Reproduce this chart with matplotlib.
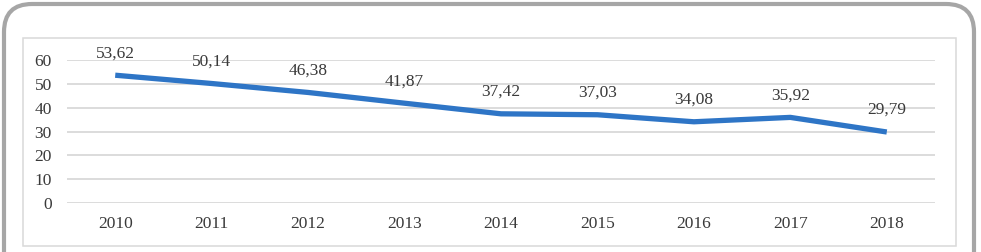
import matplotlib
matplotlib.use("Agg")
import matplotlib.pyplot as plt
from matplotlib.patches import FancyBboxPatch, Rectangle

years = ["2010", "2011", "2012", "2013", "2014", "2015", "2016", "2017", "2018"]
values = [53.62, 50.14, 46.38, 41.87, 37.42, 37.03, 34.08, 35.92, 29.79]
yticks = [0, 10, 20, 30, 40, 50, 60]

W, H = 981, 252
fig = plt.figure(figsize=(W / 100, H / 100), dpi=100)
fig.patch.set_facecolor("white")

# background axes in pixel coordinates for frames
bg = fig.add_axes([0, 0, 1, 1], zorder=-1)
bg.set_xlim(0, W)
bg.set_ylim(H, 0)
bg.axis("off")
outer = FancyBboxPatch((4, 4), 970, 300,
                       boxstyle="round,pad=0,rounding_size=28",
                       facecolor="white", edgecolor="#a6a6a6", linewidth=3.0)
bg.add_patch(outer)
inner = Rectangle((23, 38), 933, 208, facecolor="white",
                  edgecolor="#d9d9d9", linewidth=1.1)
bg.add_patch(inner)

def px(x, y):
    return x / W, 1 - y / H

ax_l, ax_b = px(67, 203)
ax_r, ax_t = px(935, 60)
ax = fig.add_axes([ax_l, ax_b, ax_r - ax_l, ax_t - ax_b], zorder=1)
ax.set_facecolor("none")

xs = list(range(len(years)))
ax.plot(xs, values, color="#2e75c6", linewidth=3.8, solid_capstyle="butt",
        solid_joinstyle="round", zorder=3)

font = "Liberation Serif"
tc = "#3a3a3a"
fs = 12.5
for x, v in zip(xs, values):
    ax.annotate(f"{v:.2f}".replace(".", ","), (x, v), xytext=(0, 10),
                textcoords="offset points", ha="center", va="bottom",
                fontsize=fs, family=font, color=tc, zorder=4)

ax.set_xlim(-0.5, len(years) - 0.5)
ax.set_ylim(0, 60)
ax.set_yticks(yticks)
ax.set_yticklabels([str(t) for t in yticks], family=font, fontsize=fs, color=tc)
ax.set_xticks(xs)
ax.set_xticklabels(years, family=font, fontsize=fs, color=tc)
ax.tick_params(axis="both", length=0)
ax.tick_params(axis="y", pad=11)
ax.tick_params(axis="x", pad=9)
for s in ax.spines.values():
    s.set_visible(False)
ax.yaxis.grid(True, color="#d9d9d9", linewidth=1.3)
ax.set_axisbelow(True)

fig.savefig("out.png", dpi=100)
